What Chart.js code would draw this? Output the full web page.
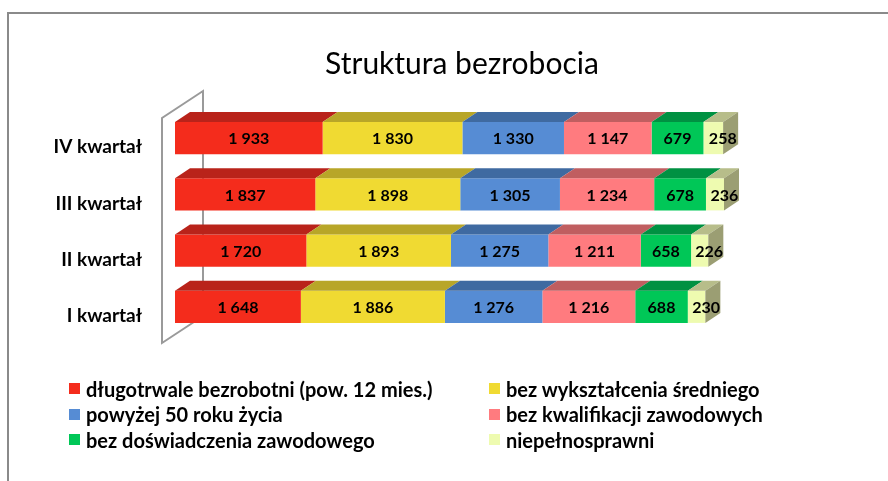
<!DOCTYPE html>
<html>
<head>
<meta charset="utf-8">
<script src="https://cdn.jsdelivr.net/npm/chart.js@4/dist/chart.umd.min.js"></script>
<style>
  html,body{margin:0;padding:0;background:#fff;}
  #wrap{position:relative;width:888px;height:481px;overflow:hidden;}
  #frame{position:absolute;left:7px;top:12px;width:2000px;height:2000px;border-top:2px solid #8a8a8a;border-left:2px solid #8a8a8a;box-sizing:border-box;}
  canvas{position:absolute;left:0;top:0;}
  #title{position:absolute;left:262px;width:400px;top:44px;height:36px;line-height:36px;text-align:center;font-family:Lato,sans-serif;font-size:30px;color:#000;white-space:nowrap;}
  #legend{position:absolute;left:69px;top:376px;display:grid;grid-template-columns:420px auto;font-family:Lato,sans-serif;font-weight:bold;font-size:20px;color:#000;}
  #legend .it{height:25.5px;display:flex;align-items:center;white-space:nowrap;}
  #legend .sw{width:11px;height:11px;margin-right:6px;flex:none;}
</style>
</head>
<body>
<div id="wrap">
  <div id="frame"></div>
  <canvas id="c" width="888" height="481"></canvas>
  <div id="title"></div>
  <div id="legend"></div>
</div>
<script>
const chartTitle = "Struktura bezrobocia";
const categories = ["I kwartał", "II kwartał", "III kwartał", "IV kwartał"];
const seriesNames = [
  "długotrwale bezrobotni (pow. 12 mies.)",
  "bez wykształcenia średniego",
  "powyżej 50 roku życia",
  "bez kwalifikacji zawodowych",
  "bez doświadczenia zawodowego",
  "niepełnosprawni"
];
const dlugotrwale = [1648, 1720, 1837, 1933];
const bezWyksztalcenia = [1886, 1893, 1898, 1830];
const powyzej50 = [1276, 1275, 1305, 1330];
const bezKwalifikacji = [1216, 1211, 1234, 1147];
const bezDoswiadczenia = [688, 658, 678, 679];
const niepelnosprawni = [230, 226, 236, 258];
const seriesValues = [dlugotrwale, bezWyksztalcenia, powyzej50, bezKwalifikacji, bezDoswiadczenia, niepelnosprawni];

const frontColors = ["#f42c1c", "#f0da32", "#568cd4", "#ff7b7f", "#00c757", "#eefbb0"];
const topColors   = ["#b9231a", "#b8a628", "#3f6aa1", "#c05e60", "#009142", "#b7bd8a"];
const sideColor = "#9b9e73";
const DX = 15, DY = -10;

function fmt(n){ return String(n).replace(/\B(?=(\d{3})+(?!\d))/g, ' '); }

const bar3d = {
  id: 'bar3d',
  beforeDatasetsDraw(chart){
    const ctx = chart.ctx, a = chart.chartArea;
    ctx.save();
    ctx.strokeStyle = '#9a9a9a';
    ctx.lineWidth = 2;
    const fx = a.left - 13, bx = a.left + 28;
    ctx.beginPath();
    ctx.moveTo(fx, a.top + 8); ctx.lineTo(fx, a.bottom + 8);
    ctx.lineTo(bx, a.bottom - 19); ctx.lineTo(bx, a.top - 19);
    ctx.closePath();
    ctx.stroke();
    ctx.restore();
  },
  afterDatasetsDraw(chart){
    const ctx = chart.ctx;
    const n = chart.data.datasets.length;
    ctx.save();
    for (let d = 0; d < n; d++){
      const meta = chart.getDatasetMeta(d);
      meta.data.forEach(el => {
        const p = el.getProps(['x','y','base','height'], true);
        const x0 = Math.min(p.base, p.x), x1 = Math.max(p.base, p.x);
        const yt = p.y - p.height/2, yb = p.y + p.height/2;
        ctx.fillStyle = topColors[d];
        ctx.beginPath();
        ctx.moveTo(x0, yt); ctx.lineTo(x0+DX, yt+DY); ctx.lineTo(x1+DX, yt+DY); ctx.lineTo(x1, yt);
        ctx.closePath(); ctx.fill();
        if (d === n-1){
          ctx.fillStyle = sideColor;
          ctx.beginPath();
          ctx.moveTo(x1, yt); ctx.lineTo(x1+DX, yt+DY); ctx.lineTo(x1+DX, yb+DY); ctx.lineTo(x1, yb);
          ctx.closePath(); ctx.fill();
        }
      });
    }
    ctx.font = 'bold 16px Lato, sans-serif';
    ctx.fillStyle = '#000';
    ctx.textAlign = 'center';
    ctx.textBaseline = 'middle';
    for (let d = 0; d < n; d++){
      const meta = chart.getDatasetMeta(d);
      meta.data.forEach((el, i) => {
        const p = el.getProps(['x','y','base'], true);
        const x0 = Math.min(p.base, p.x), x1 = Math.max(p.base, p.x);
        const txt = fmt(chart.data.datasets[d].data[i]);
        const w = ctx.measureText(txt).width;
        let cx = (x0 + x1)/2;
        if (w > x1 - x0 - 2) cx = (x0 + x1 + DX)/2 + 2;
        ctx.fillText(txt, cx, p.y + 1);
      });
    }
    ctx.restore();
  }
};

const chart = new Chart(document.getElementById('c'), {
  type: 'bar',
  data: {
    labels: categories,
    datasets: seriesNames.map((name, k) => ({
      label: name,
      data: seriesValues[k],
      backgroundColor: frontColors[k],
      borderWidth: 0,
      barPercentage: 0.57,
      categoryPercentage: 1
    }))
  },
  options: {
    indexAxis: 'y',
    responsive: false,
    devicePixelRatio: 1,
    animation: false,
    layout: { padding: { left: 0, right: 102, top: 110, bottom: 146 } },
    plugins: {
      legend: { display: false },
      tooltip: { enabled: false },
      title: { display: false }
    },
    scales: {
      x: { stacked: true, display: false, min: 0, max: 8000 },
      y: {
        stacked: true,
        reverse: true,
        grid: { display: false },
        border: { display: false },
        afterFit(scale){ scale.width = 175; },
        ticks: {
          color: '#000',
          padding: 25,
          labelOffset: 9,
          font: { family: 'Lato, sans-serif', size: 19, weight: 'bold' }
        }
      }
    }
  },
  plugins: [bar3d]
});

document.getElementById('title').textContent = chartTitle;
const leg = document.getElementById('legend');
chart.data.datasets.forEach(ds => {
  const it = document.createElement('div');
  it.className = 'it';
  const sw = document.createElement('span');
  sw.className = 'sw';
  sw.style.background = ds.backgroundColor;
  const tx = document.createElement('span');
  tx.textContent = ds.label;
  it.appendChild(sw); it.appendChild(tx);
  leg.appendChild(it);
});
</script>
</body>
</html>
